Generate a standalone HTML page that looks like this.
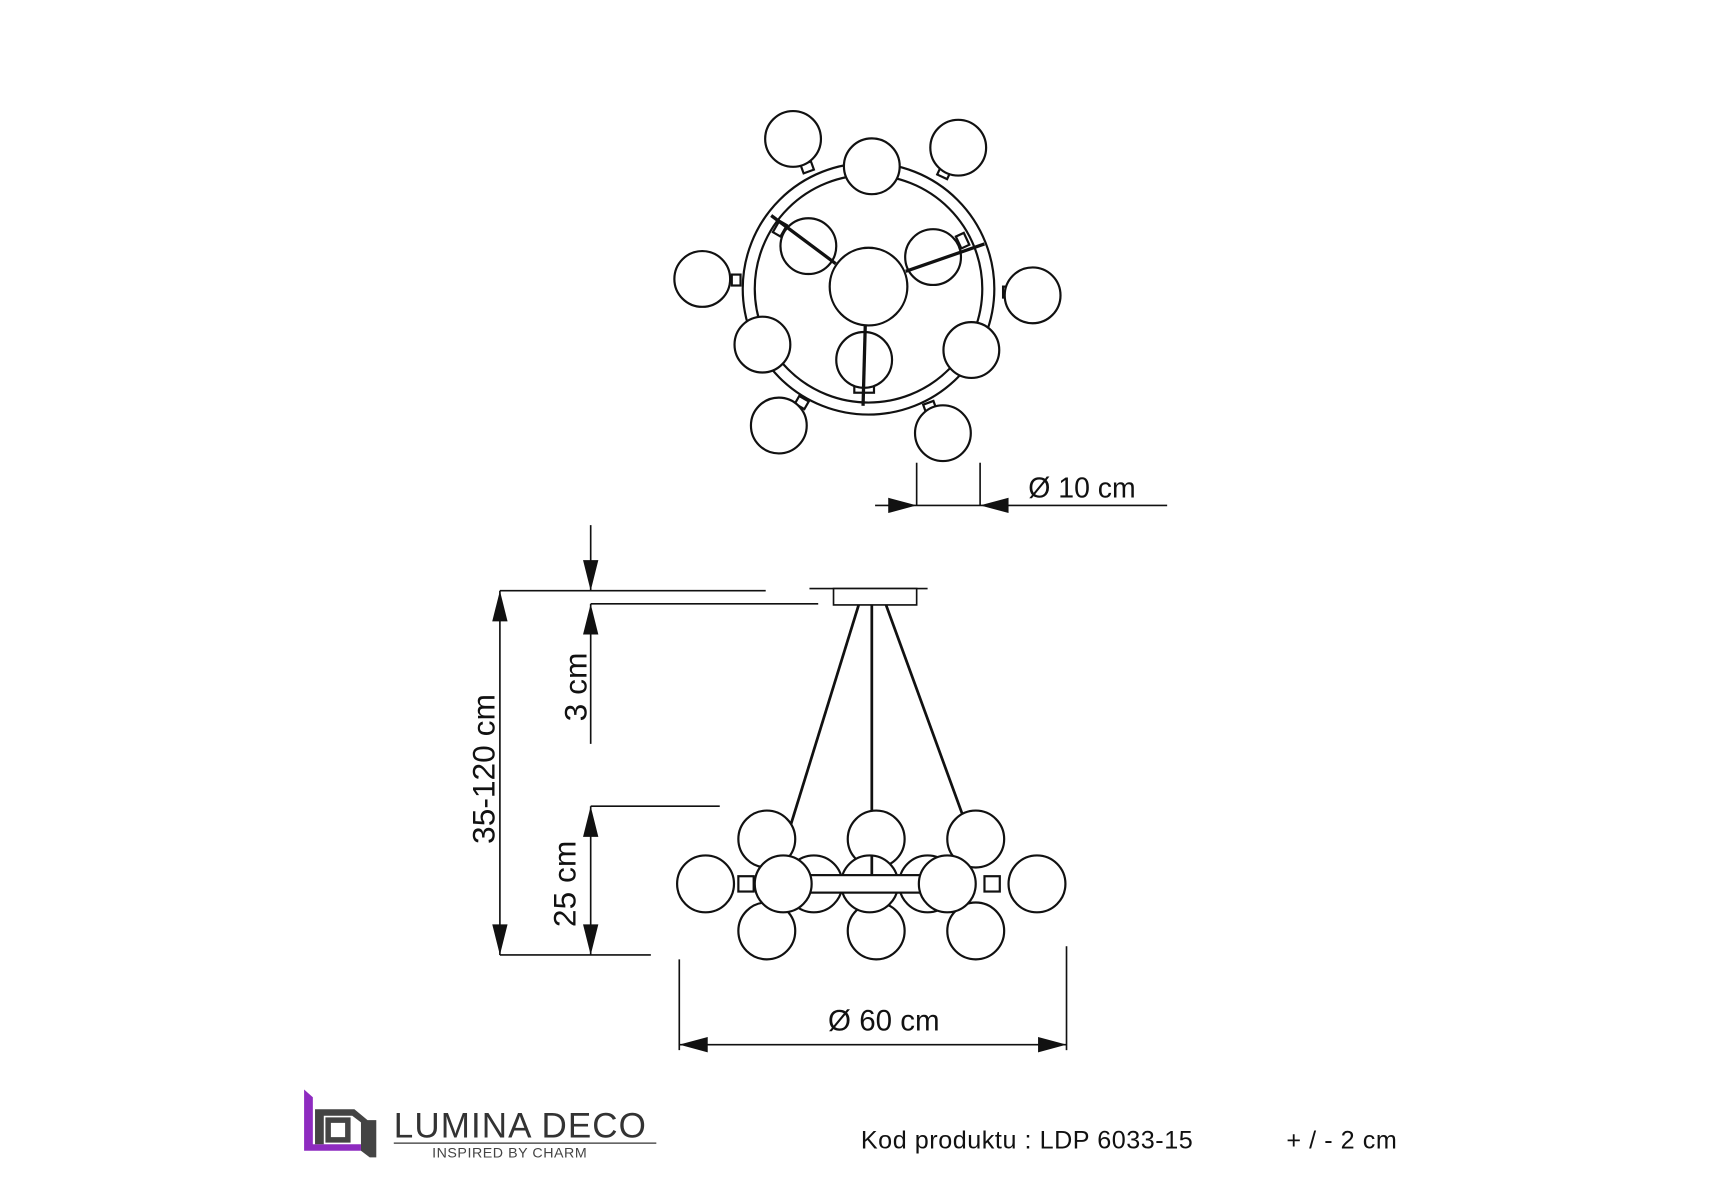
<!DOCTYPE html>
<html><head><meta charset="utf-8"><style>
html,body{margin:0;padding:0;background:#fff;width:1715px;height:1200px;overflow:hidden}
svg{display:block}
text{font-family:"Liberation Sans",sans-serif;fill:#111}
</style></head><body>
<svg width="1715" height="1200" viewBox="0 0 1560 1091.5" preserveAspectRatio="none">
<g transform="scale(0.995)">
<g fill="#fff" stroke="#111" stroke-width="2">
<circle cx="794" cy="264" r="115" fill="none"/>
<circle cx="794" cy="264" r="104" fill="none"/>
<rect x="733" y="149" width="10" height="8" transform="rotate(-20 738 153)"/>
<rect x="858" y="154" width="10" height="8" transform="rotate(25 863 158)"/>
<rect x="669" y="251" width="8" height="10"/>
<rect x="917" y="262" width="8" height="10"/>
<rect x="728" y="364" width="10" height="8" transform="rotate(30 733 368)"/>
<rect x="845" y="368" width="10" height="8" transform="rotate(-20 850 372)"/>
<rect x="709" y="203" width="8" height="12" transform="rotate(30 713 209)"/>
<rect x="876" y="214" width="8" height="12" transform="rotate(-25 880 220)"/>
<rect x="781" y="352" width="18" height="7"/>
<circle cx="739" cy="225" r="25.5"/>
<circle cx="853" cy="235" r="25.5"/>
<circle cx="790" cy="329" r="25.5"/>
<circle cx="794" cy="262" r="35.5"/>
<circle cx="725" cy="127" r="25.5"/>
<circle cx="876" cy="135" r="25.5"/>
<circle cx="797" cy="152" r="25.5"/>
<circle cx="642" cy="255" r="25.5"/>
<circle cx="944" cy="270" r="25.5"/>
<circle cx="697" cy="315" r="25.5"/>
<circle cx="888" cy="320" r="25.5"/>
<circle cx="712" cy="389" r="25.5"/>
<circle cx="862" cy="396" r="25.5"/>
</g>
<g stroke="#111" stroke-width="3">
<line x1="705" y1="197" x2="764" y2="241"/>
<line x1="828" y1="248" x2="900" y2="223"/>
<line x1="791" y1="298" x2="789" y2="371"/>
</g>
<g stroke="#111" stroke-width="1.5" fill="none">
<line x1="838" y1="423" x2="838" y2="462"/>
<line x1="896" y1="423" x2="896" y2="462"/>
<line x1="800" y1="462" x2="1067" y2="462"/>
</g>
<path d="M812,455 L838,462 L812,469z M922,455 L896,462 L922,469z" fill="#111"/>
<text x="940" y="455" font-size="26">Ø 10 cm</text>

<g stroke="#111" stroke-width="1.5" fill="none">
<line x1="457" y1="540" x2="700" y2="540"/>
<line x1="540" y1="552" x2="748" y2="552"/>
<line x1="540" y1="480" x2="540" y2="540"/>
<line x1="540" y1="552" x2="540" y2="680"/>
<line x1="457" y1="540" x2="457" y2="873"/>
<line x1="540" y1="737" x2="658" y2="737"/>
<line x1="540" y1="737" x2="540" y2="873"/>
<line x1="457" y1="873" x2="595" y2="873"/>
<line x1="740" y1="538" x2="848" y2="538"/>
<line x1="621" y1="877" x2="621" y2="960"/>
<line x1="975" y1="865" x2="975" y2="960"/>
<line x1="621" y1="955" x2="975" y2="955"/>
</g>
<g fill="#111">
<path d="M533,512 L540,540 L547,512z"/>
<path d="M533,580 L540,552 L547,580z"/>
<path d="M450,568 L457,540 L464,568z"/>
<path d="M450,845 L457,873 L464,845z"/>
<path d="M533,765 L540,737 L547,765z"/>
<path d="M533,845 L540,873 L547,845z"/>
<path d="M621,955 L647,948 L647,962z"/>
<path d="M975,955 L949,948 L949,962z"/>
</g>
<text transform="translate(536,628) rotate(-90)" font-size="29" text-anchor="middle">3 cm</text>
<text transform="translate(452,703) rotate(-90)" font-size="29" text-anchor="middle">35-120 cm</text>
<text transform="translate(526,808) rotate(-90)" font-size="29" text-anchor="middle">25 cm</text>
<text x="808" y="942" font-size="27" text-anchor="middle">Ø 60 cm</text>

<rect x="762" y="538" width="76" height="15" fill="#fff" stroke="#111" stroke-width="1.5"/>
<g stroke="#111" stroke-width="2.5">
<line x1="785" y1="553" x2="722" y2="757"/>
<line x1="797" y1="553" x2="797" y2="800"/>
<line x1="810" y1="553" x2="880" y2="745"/>
</g>
<g fill="#fff" stroke="#111" stroke-width="2">
<circle cx="701" cy="767" r="26"/>
<circle cx="801" cy="767" r="26"/>
<circle cx="892" cy="767" r="26"/>
<circle cx="701" cy="851" r="26"/>
<circle cx="801" cy="851" r="26"/>
<circle cx="892" cy="851" r="26"/>
<circle cx="744" cy="808" r="26"/>
<circle cx="848" cy="808" r="26"/>
<rect x="675" y="801" width="14" height="14"/>
<rect x="900" y="801" width="14" height="14"/>
<circle cx="645" cy="808" r="26"/>
<circle cx="948" cy="808" r="26"/>
<circle cx="795" cy="808" r="26"/>
<rect x="716" y="800" width="150" height="16"/>
<circle cx="716" cy="808" r="26"/>
<circle cx="866" cy="808" r="26"/>
</g>
<line x1="797" y1="782" x2="797" y2="800" stroke="#111" stroke-width="2.5"/>

<path d="M278,996 L286,1003 L286,1046 L330,1046 L330,1052 L278,1052z" fill="#8e2bc0"/>
<path d="M288,1014 L324,1014 L336,1024 L344,1024 L344,1058 L338,1058 L330,1052 L330,1026 L322,1020 L296,1020 L296,1046 L288,1046z" fill="#444"/>
<path d="M300,1024 L318,1024 L318,1042 L300,1042z" fill="none" stroke="#444" stroke-width="5"/>
<text x="360" y="1040" font-size="32" style="fill:#333;letter-spacing:1px">LUMINA DECO</text>
<line x1="360" y1="1045" x2="600" y2="1045" stroke="#333" stroke-width="1.2"/>
<text x="395" y="1058" font-size="13" style="fill:#444;letter-spacing:0.5px">INSPIRED BY CHARM</text>
<text x="787" y="1050" font-size="23" style="letter-spacing:0.5px">Kod produktu : LDP 6033-15</text>
<text x="1176" y="1050" font-size="23" style="letter-spacing:0.5px">+ / - 2 cm</text>
</g>
</svg>
</body></html>
